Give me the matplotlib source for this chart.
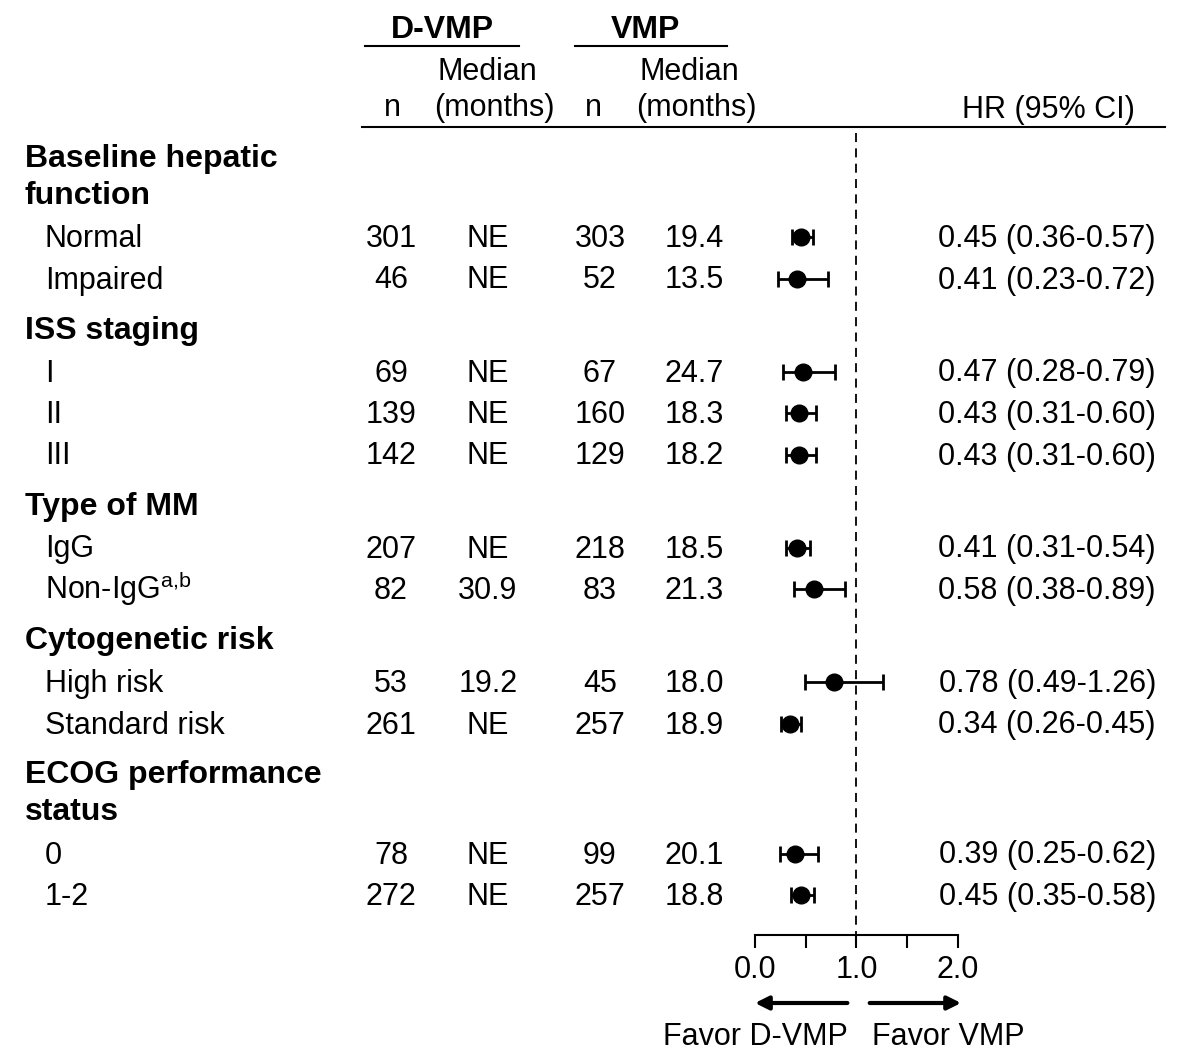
import matplotlib
matplotlib.use("Agg")
import matplotlib.pyplot as plt
import numpy as np

plt.rcParams['font.family'] = ['Liberation Sans', 'DejaVu Sans']
plt.rcParams['mathtext.fontset'] = 'custom'
plt.rcParams['mathtext.rm'] = 'Liberation Sans'
plt.rcParams['mathtext.it'] = 'Liberation Sans'

# ---- data ----
groups = ["Baseline hepatic\nfunction", "ISS staging", "Type of MM",
          "Cytogenetic risk", "ECOG performance\nstatus"]
subgroups = [["Normal", "Impaired"],
             ["I", "II", "III"],
             ["IgG", r"Non-IgG$^{\mathrm{a{,}b}}$"],
             ["High risk", "Standard risk"],
             ["0", "1-2"]]
n_dvmp = [301, 46, 69, 139, 142, 207, 82, 53, 261, 78, 272]
med_dvmp = ["NE", "NE", "NE", "NE", "NE", "NE", "30.9", "19.2", "NE", "NE", "NE"]
n_vmp = [303, 52, 67, 160, 129, 218, 83, 45, 257, 99, 257]
med_vmp = ["19.4", "13.5", "24.7", "18.3", "18.2", "18.5", "21.3", "18.0", "18.9", "20.1", "18.8"]
hr = np.array([0.45, 0.41, 0.47, 0.43, 0.43, 0.41, 0.58, 0.78, 0.34, 0.39, 0.45])
hr_lo = np.array([0.36, 0.23, 0.28, 0.31, 0.31, 0.31, 0.38, 0.49, 0.26, 0.25, 0.35])
hr_hi = np.array([0.57, 0.72, 0.79, 0.60, 0.60, 0.54, 0.89, 1.26, 0.45, 0.62, 0.58])

FS = 22
FSB = 23
W, H = 1183, 1051

fig = plt.figure(figsize=(W / 100, H / 100), dpi=100)

# table axes in pixel units
tab = fig.add_axes([0, 0, 1, 1])
tab.set_xlim(0, W)
tab.set_ylim(H, 0)
tab.axis('off')

# forest axes: HR 0..2 spans px 755..958
fst = fig.add_axes([755 / W, 0, 203 / W, 1])
fst.set_xlim(0, 2)
fst.set_ylim(H, 0)
fst.patch.set_visible(False)

# row layout
y = 157 - 50
group_y, row_y = [], []
for g, items in zip(groups, subgroups):
    y += 50
    group_y.append(y)
    y += 37 * (len(g.split("\n")) - 1)
    y += 43 - 41.5
    for _ in items:
        y += 41.5
        row_y.append(y)
row_y = np.array(row_y)
base = 10  # baseline offset from visual centre

# header
tab.text(442, 28 + base, "D-VMP", ha='center', va='baseline', fontsize=FSB, fontweight='bold')
tab.text(645, 28 + base, "VMP", ha='center', va='baseline', fontsize=FSB, fontweight='bold')
tab.plot([365, 519], [46, 46], color='black', lw=1.5)
tab.plot([575, 727], [46, 46], color='black', lw=1.5)
for cx in (487, 689):
    tab.text(cx, 70 + base, "Median", ha='center', va='baseline', fontsize=FS)
for cx in (392, 593):
    tab.text(cx, 106 + base, "n", ha='center', va='baseline', fontsize=FS)
for cx in (494, 696):
    tab.text(cx, 106 + base, "(months)", ha='center', va='baseline', fontsize=FS)
tab.text(1135, 108 + base, "HR (95% CI)", ha='right', va='baseline', fontsize=FS)
tab.plot([362, 1165], [127, 127], color='black', lw=1.5)

# group labels
for g, gy in zip(groups, group_y):
    for k, line in enumerate(g.split("\n")):
        tab.text(25, gy + 37 * k + base, line, ha='left', va='baseline',
                 fontsize=FSB, fontweight='bold')

# subgroup rows
labels = [s for items in subgroups for s in items]
for i, ry in enumerate(row_y):
    tab.text(45, ry + base, labels[i], ha='left', va='baseline', fontsize=FS)
    tab.text(391, ry + base, str(n_dvmp[i]), ha='center', va='baseline', fontsize=FS)
    tab.text(488, ry + base, med_dvmp[i], ha='center', va='baseline', fontsize=FS)
    tab.text(600, ry + base, str(n_vmp[i]), ha='center', va='baseline', fontsize=FS)
    tab.text(694, ry + base, med_vmp[i], ha='center', va='baseline', fontsize=FS)
    tab.text(1156, ry + base, f"{hr[i]:.2f} ({hr_lo[i]:.2f}-{hr_hi[i]:.2f})",
             ha='right', va='baseline', fontsize=FS)

# forest plot
fst.vlines(1.0, 133, 935, colors='black', linestyles=(0, (5, 3.5)), lw=1.3)
fst.errorbar(hr, row_y, xerr=[hr - hr_lo, hr_hi - hr], fmt='o', color='black',
             ms=12, capsize=6, elinewidth=2, capthick=2)

for s in ('top', 'left', 'right'):
    fst.spines[s].set_visible(False)
fst.spines['bottom'].set_position(('data', 935))
fst.spines['bottom'].set_bounds(0, 2)
fst.spines['bottom'].set_linewidth(1.5)
fst.set_yticks([])
fst.set_xticks([0, 1, 2])
fst.set_xticklabels(["0.0", "1.0", "2.0"])
fst.set_xticks([0.5, 1.5], minor=True)
fst.tick_params(axis='x', which='both', direction='out', length=9.5, width=1.5,
                labelsize=FS, pad=5)

# direction arrows
arrow = dict(arrowstyle='-|>', lw=3, color='black', mutation_scale=20,
             shrinkA=0, shrinkB=0)
fst.annotate("", xy=(0.0, 1003), xytext=(0.91, 1003), arrowprops=arrow,
             annotation_clip=False)
fst.annotate("", xy=(2.03, 1003), xytext=(1.13, 1003), arrowprops=arrow,
             annotation_clip=False)
tab.text(848, 1035 + base, "Favor D-VMP", ha='right', va='baseline', fontsize=FS)
tab.text(872, 1035 + base, "Favor VMP", ha='left', va='baseline', fontsize=FS)

fig.savefig("out.png", dpi=100)
